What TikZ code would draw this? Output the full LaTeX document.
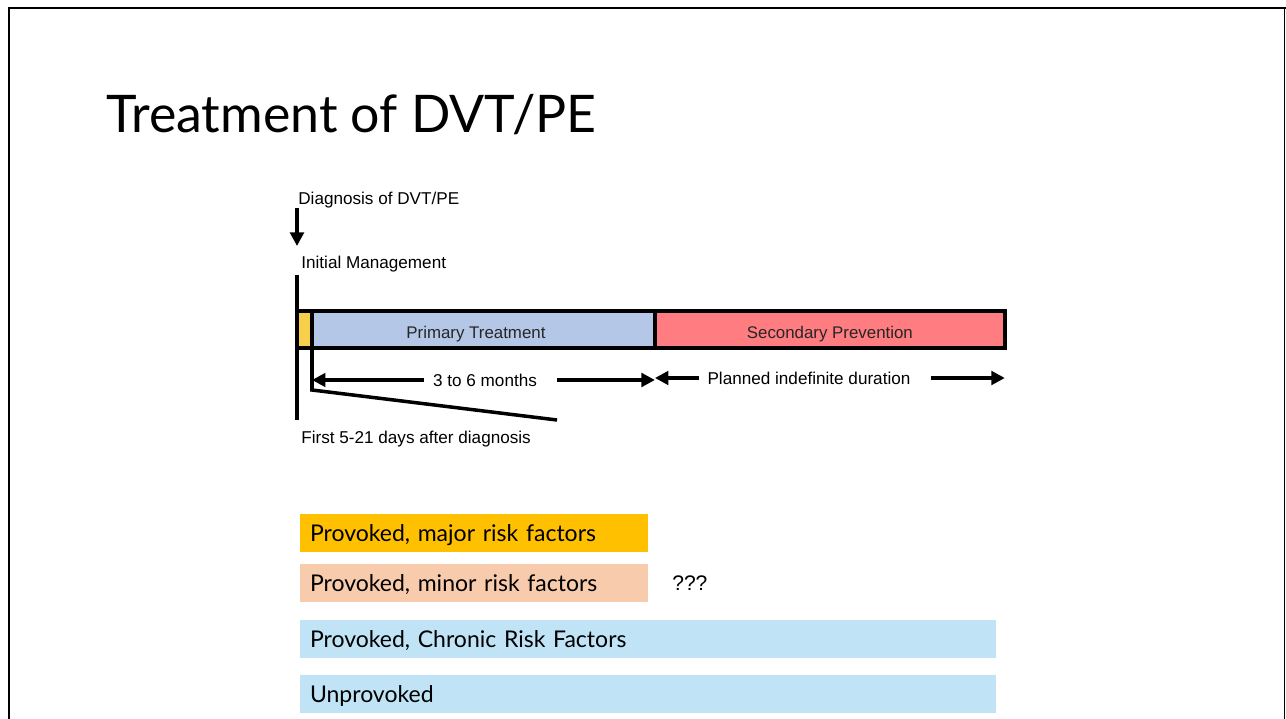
\documentclass[tikz,border=0pt]{standalone}
\usepackage{fontspec}
\setmainfont{Liberation Sans}
\newfontfamily\slidefont{Lato}
\usetikzlibrary{arrows.meta,positioning}
\definecolor{initfill}{HTML}{F7CF4B}
\definecolor{primfill}{HTML}{B4C7E7}
\definecolor{secfill}{HTML}{FF7C80}
\definecolor{majorfill}{HTML}{FFC000}
\definecolor{minorfill}{HTML}{F8CBAD}
\definecolor{chronfill}{HTML}{C0E4F5}

\begin{document}
\begin{tikzpicture}[x=0.02cm, y=-0.02cm, thick line/.style={line width=2pt}, tip/.style={-{Triangle[length=0.27cm,width=0.27cm]}}, phase/.style={rectangle, draw, line width=2pt, minimum height=0.74cm, inner sep=0pt, outer sep=0pt, text height=10.4pt, text depth=0pt, text=black!85, font=\fontsize{9.6}{11}\selectfont}, lbl/.style={inner sep=0pt, font=\fontsize{9.75}{11}\selectfont}, bar/.style={rectangle, anchor=north west, inner xsep=0.2cm, inner ysep=0pt, outer sep=0pt, minimum height=0.76cm, text depth=0pt, align=left, font=\slidefont\fontsize{13.1}{16}\selectfont}]
  \useasboundingbox (0,0) rectangle (1286,719);
  \draw[line width=0.05cm] (9,719) -- (9,8) -- (1286,8);
  \draw[line width=0.02cm] (1284.5,8) -- (1284.5,719);
  \node[anchor=base west, inner sep=0pt, font=\slidefont\fontsize{29.5}{36}\selectfont] (title) at (106,133) {Treatment of DVT/PE};
  \node[lbl, anchor=west] (diag) at (298,200) {Diagnosis of DVT/PE};
  \node[lbl, anchor=west] (initm) at (301,264) {Initial Management};
  \node[phase, fill=initfill, minimum width=0.3cm, anchor=north west] (init) at (297,311) {};
  \node[phase, fill=primfill, minimum width=6.86cm, right=0pt of init] (prim) {\hspace{-0.3cm}Primary Treatment};
  \node[phase, fill=secfill, minimum width=7cm, right=0pt of prim] (sec) {Secondary Prevention};
  \coordinate (a0) at (297,208);
  \coordinate (a1) at (297,246);
  \draw[thick line, tip] (a0) -- (a1);
  \coordinate (v0) at (297,275);
  \coordinate (v1) at (297,420);
  \draw[thick line] (v0) -- (v1);
  \coordinate (kink) at (312,390);
  \coordinate (wedge) at (557,420);
  \draw[thick line] (init.south east) -- (kink) -- (wedge);
  \node[lbl, inner xsep=0.18cm] (months) at (485,380) {3 to 6 months};
  \draw[thick line, tip] (months.west) -- (months.west -| init.east);
  \draw[thick line, tip] ([xshift=0.22cm]months.east) -- (months.east -| prim.east);
  \node[lbl, inner xsep=0.16cm] (plan) at (809,378) {Planned indefinite duration};
  \draw[thick line, tip] (plan.west) -- (plan.west -| prim.east);
  \draw[thick line, tip] ([xshift=0.24cm]plan.east) -- (plan.east -| sec.east);
  \node[lbl, anchor=west] (first) at (301,439) {First 5-21 days after diagnosis};
  \node[bar, fill=majorfill, text width=6.56cm] (major) at (300,514) {Provoked, major risk factors};
  \node[bar, fill=minorfill, text width=6.56cm, below=0.24cm of major] (minor) {Provoked, minor risk factors};
  \node[inner sep=0pt, font=\fontsize{12}{14}\selectfont, right=0.48cm of minor] (unk) {???};
  \node[bar, fill=chronfill, text width=13.52cm, below=0.36cm of minor.south west, anchor=north west] (chronic) {Provoked, Chronic Risk Factors};
  \node[bar, fill=chronfill, text width=13.52cm, below=0.34cm of chronic.south west, anchor=north west] (unprov) {Unprovoked};
\end{tikzpicture}
\end{document}
